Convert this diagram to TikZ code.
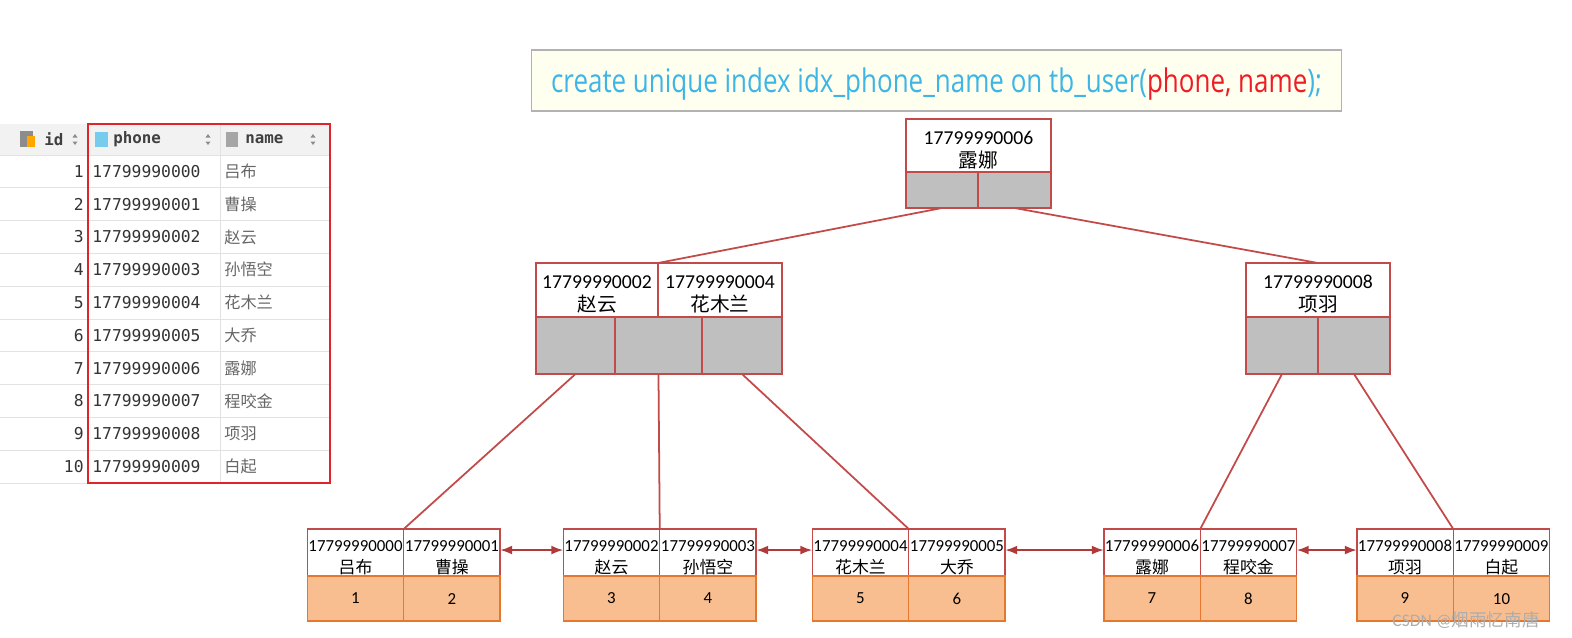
\documentclass[tikz,border=0pt]{standalone}
\usepackage{fontspec}
\usepackage{graphicx}
\setmainfont{Carlito}
\setmonofont{DejaVu Sans Mono}
\newfontfamily\cjk{Noto Sans CJK SC}
\newfontfamily\sqlfont{Open Sans}
\usetikzlibrary{arrows.meta,positioning}

\definecolor{boxred}{HTML}{C24A48}
\definecolor{linkred}{HTML}{B03A3A}
\definecolor{ptrgray}{HTML}{BFBFBF}
\definecolor{datafill}{HTML}{F9BE8F}
\definecolor{dataline}{HTML}{E5782F}
\definecolor{sqlblue}{HTML}{3DB5E6}
\definecolor{sqlred}{HTML}{EE1C25}
\definecolor{sqlbg}{HTML}{FFFFF0}
\definecolor{tblline}{HTML}{E2E2E2}
\definecolor{tblhead}{HTML}{F2F2F2}
\definecolor{tblred}{HTML}{E0242B}

% key text: phone over name, pushed down a little
\newcommand\keylines[2]{\rule{0pt}{12.5pt}#1\\{\cjk #2}}

\begin{document}
\begin{tikzpicture}[
  x=0.02cm, y=-0.02cm,
  innerkey/.style={draw=boxred, fill=white, line width=0.85pt, outer sep=0pt, inner sep=1pt, align=center, minimum height=1.08cm, font=\fontsize{11.2}{13}\selectfont},
  ptr/.style={draw=boxred, fill=ptrgray, line width=0.85pt, outer sep=0pt, minimum height=1.14cm},
  leafkey/.style={draw=boxred, fill=white, line width=0.85pt, outer sep=0pt, inner sep=0.5pt, align=center, minimum width=1.93cm, minimum height=0.9cm, font=\fontsize{9.6}{12.5}\selectfont},
  leafdata/.style={draw=dataline, fill=datafill, line width=0.85pt, outer sep=0pt, minimum width=1.93cm, minimum height=0.9cm, font=\fontsize{9.6}{12}\selectfont},
  tree/.style={draw=boxred, line width=1pt},
  link/.style={{Latex[length=2.4mm,width=1.8mm]}-{Latex[length=2.4mm,width=1.8mm]}, draw=linkred, line width=1pt},
  idtxt/.style={anchor=east, inner sep=0pt, font=\ttfamily\fontsize{9.3}{11}\selectfont, text=black!80},
  phtxt/.style={anchor=west, inner sep=0pt, font=\ttfamily\fontsize{9.3}{11}\selectfont, text=black!80},
  nmtxt/.style={anchor=west, inner sep=0pt, font=\cjk\fontsize{9.2}{10}\selectfont, text=black!60},
  hdtxt/.style={anchor=west, inner sep=0pt, font=\ttfamily\bfseries\fontsize{9}{11}\selectfont, text=black!75},
  sqlbox/.style={draw=black!30, fill=sqlbg, line width=0.6pt, minimum width=16.22cm, minimum height=1.22cm, text height=18pt, text depth=4.5pt, font=\sqlfont\fontsize{18.5}{20}\selectfont}
]
\useasboundingbox (0,0) rectangle (1572,637);

% table of rows
\fill[tblhead] (0,124) rectangle (330,155);
\foreach \i in {0,...,10}
  \draw[tblline] (0,{155+\i*32.8}) -- (330,{155+\i*32.8});
\draw[tblline] (220,124) -- (220,483);
\node[hdtxt] (hid) at (44,139.5) {id};
\node[hdtxt] (hphone) at (113,139.5) {phone};
\node[hdtxt] (hname) at (245,139.5) {name};
% header icons and sort marks
\fill[black!45] (20,131) rectangle (33,147);
\fill[orange!70!yellow] (27,136) rectangle (35,147);
\fill[sqlblue!70] (95,132) rectangle (108,147);
\fill[black!35] (226,132) rectangle (238,147);
\foreach \x in {75,208,313} {
  \fill[black!45] (\x-2.5,137.5) -- (\x+2.5,137.5) -- (\x,134) -- cycle;
  \fill[black!45] (\x-2.5,141.5) -- (\x+2.5,141.5) -- (\x,145) -- cycle;
}
\foreach \i/\p/\nm in {1/17799990000/吕布, 2/17799990001/曹操, 3/17799990002/赵云,
  4/17799990003/孙悟空, 5/17799990004/花木兰, 6/17799990005/大乔, 7/17799990006/露娜,
  8/17799990007/程咬金, 9/17799990008/项羽, 10/17799990009/白起} {
  \node[idtxt] (id\i) at (84,{155+(\i-0.5)*32.8}) {\i};
  \node[phtxt] (ph\i) at (92,{155+(\i-0.5)*32.8}) {\p};
  \node[nmtxt] (nm\i) at (224,{155+(\i-0.5)*32.8}) {\nm};
}
\draw[tblred, line width=1.4pt] (88,124) rectangle (330,483);

% index statement
\node[sqlbox] (sql) at (936.5,80.5) {\resizebox{15.42cm}{\height}{\color{sqlblue}create unique index idx\_phone\_name on tb\_user(\textcolor{sqlred}{phone, name});}};

% root
\node[innerkey, minimum width=2.9cm, minimum height=1.06cm] (rk) at (978.5,145.5) {\keylines{17799990006}{露娜}};
\node[ptr, minimum width=1.44cm, minimum height=0.72cm] (rp1) at (942,190) {};
\node[ptr, minimum width=1.46cm, minimum height=0.72cm, right=0pt of rp1] (rp2) {};

% inner nodes
\node[innerkey, minimum width=2.44cm] (ilk1) at (597,290) {\keylines{17799990002}{赵云}};
\node[innerkey, minimum width=2.48cm, right=0pt of ilk1] (ilk2) {\keylines{17799990004}{花木兰}};
\node[ptr, minimum width=1.58cm] (ilp1) at (575.5,345.5) {};
\node[ptr, minimum width=1.74cm, right=0pt of ilp1] (ilp2) {};
\node[ptr, minimum width=1.6cm, right=0pt of ilp2] (ilp3) {};

\node[innerkey, minimum width=2.88cm] (irk) at (1318,290) {\keylines{17799990008}{项羽}};
\node[ptr, minimum width=1.44cm] (irp1) at (1282,345.5) {};
\node[ptr, minimum width=1.44cm, right=0pt of irp1] (irp2) {};

% leaves
\foreach \n/\x/\pa/\na/\pb/\nb/\ia/\ib in {
  1/355.5/17799990000/吕布/17799990001/曹操/1/2,
  2/611.5/17799990002/赵云/17799990003/孙悟空/3/4,
  3/860.5/17799990004/花木兰/17799990005/大乔/5/6,
  4/1152/17799990006/露娜/17799990007/程咬金/7/8,
  5/1405/17799990008/项羽/17799990009/白起/9/10} {
  \node[leafkey] (lk\n a) at (\x,552.5) {\keylines{\pa}{\na}};
  \node[leafkey, right=0pt of lk\n a] (lk\n b) {\keylines{\pb}{\nb}};
  \node[leafdata, below=0pt of lk\n a] (ld\n a) {\ia};
  \node[leafdata, below=0pt of lk\n b] (ld\n b) {\ib};
}

% tree edges
\draw[tree] (rp1.south) -- (ilk1.north east);
\draw[tree] (rp2.south) -- (irk.north);
\draw[tree] (ilp1.south) -- (lk1a.north east);
\draw[tree] (ilp2.south) -- (lk2a.north east);
\draw[tree] (ilp3.south) -- (lk3a.north east);
\draw[tree] (irp1.south) -- (lk4a.north east);
\draw[tree] (irp2.south) -- (lk5a.north east);

% leaf links
\foreach \a/\b in {1/2,2/3,3/4,4/5}
  \draw[link] ([yshift=1.4pt]lk\a b.east) -- ([yshift=1.4pt]lk\b a.west);

\node[text=white!68!black, inner sep=0pt, font=\fontsize{10}{11}\selectfont] (wm) at (1466,620) {CSDN @{\cjk 烟雨忆南唐}};
\end{tikzpicture}
\end{document}
